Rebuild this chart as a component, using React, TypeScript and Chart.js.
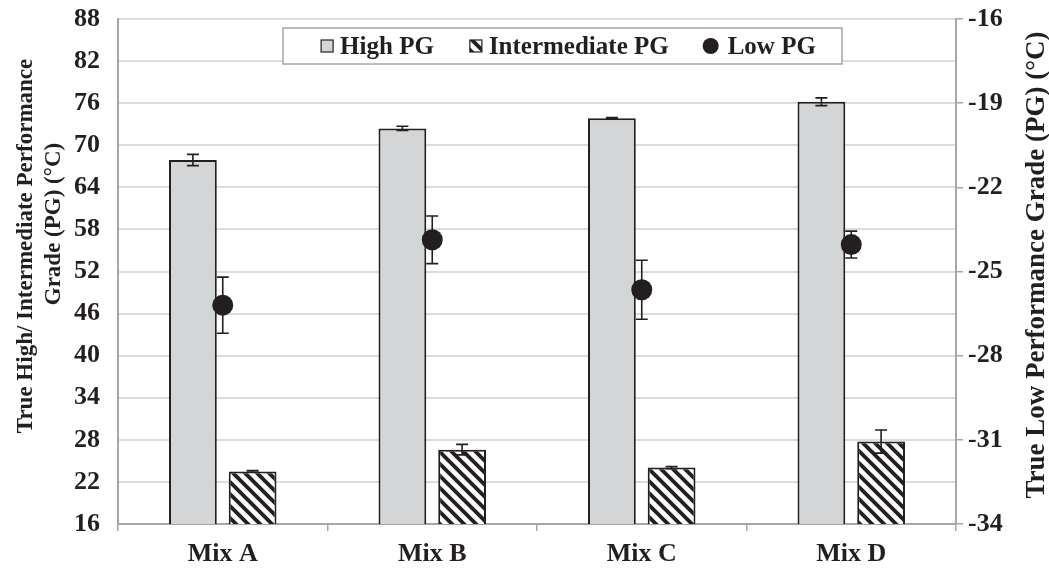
import React, { useEffect, useRef } from "react";
import { Chart, registerables } from "chart.js";

Chart.register(...registerables);

// ---------- data ----------
const categories = ["Mix A", "Mix B", "Mix C", "Mix D"];
const seriesNames = ["High PG", "Intermediate PG", "Low PG"];
const highPG = [67.9, 72.4, 73.85, 76.2];
const highPGErr = [0.8, 0.3, 0.1, 0.55];
const intermediatePG = [23.5, 26.6, 24.05, 27.75];
const intermediatePGErr = [0.12, 0.75, 0.15, 1.65];
const lowPG = [-26.2, -23.87, -25.65, -24.04];
const lowPGErr = [1.0, 0.85, 1.05, 0.48];
const leftTicks = { min: 16, max: 88, step: 6 };
const rightTicks = { min: -34, max: -16, step: 3 };
const leftTitle = ["True High/ Intermediate Performance", "Grade (PG) (°C)"];
const rightTitle = "True Low Performance Grade (PG) (°C)";

// ---------- styles ----------
const FONT = "'Liberation Serif', 'Times New Roman', serif";
const INK = "#231f20";
const BAR_GRAY = "#d4d5d7";
const AXIS = "#a6a6a6";
const GRID = "#dcdcdc";

function makeHatch(): CanvasPattern | string {
  const s = 12;
  const c = document.createElement("canvas");
  c.width = s;
  c.height = s;
  const g = c.getContext("2d");
  if (!g) return "#fff";
  g.fillStyle = "#ffffff";
  g.fillRect(0, 0, s, s);
  g.strokeStyle = INK;
  g.lineWidth = 3.8;
  g.lineCap = "square";
  for (const k of [-s, 0, s]) {
    g.beginPath();
    g.moveTo(-2, k - 2);
    g.lineTo(s + 2, k + s + 2);
    g.stroke();
  }
  const p = g.createPattern(c, "repeat");
  return p || "#fff";
}

const errorBarPlugin = {
  id: "errorBars",
  afterDatasetsDraw(chart: any) {
    const ctx = chart.ctx;
    ctx.save();
    chart.data.datasets.forEach((ds: any, di: number) => {
      const errs: number[] | undefined = ds.errorBars;
      if (!errs) return;
      const meta = chart.getDatasetMeta(di);
      const scale = chart.scales[meta.yAxisID];
      meta.data.forEach((el: any, i: number) => {
        const v = ds.data[i];
        const e = errs[i];
        const x = el.x;
        const yT = scale.getPixelForValue(v + e);
        const yB = scale.getPixelForValue(v - e);
        const cap = 6;
        ctx.strokeStyle = INK;
        ctx.lineWidth = 1.6;
        ctx.beginPath();
        ctx.moveTo(x, yT);
        ctx.lineTo(x, yB);
        ctx.moveTo(x - cap, yT);
        ctx.lineTo(x + cap, yT);
        ctx.moveTo(x - cap, yB);
        ctx.lineTo(x + cap, yB);
        ctx.stroke();
      });
    });
    ctx.restore();
  },
};

function makeOverlayPlugin(hatch: CanvasPattern | string) {
  return {
    id: "overlay",
    afterDraw(chart: any) {
      const ctx = chart.ctx;
      ctx.save();
      ctx.fillStyle = INK;
      // axis titles
      ctx.font = `bold 23px ${FONT}`;
      ctx.textAlign = "center";
      ctx.textBaseline = "middle";
      ctx.save();
      ctx.translate(26, 246);
      ctx.rotate(-Math.PI / 2);
      ctx.fillText(leftTitle[0], 0, 0);
      ctx.restore();
      ctx.save();
      ctx.translate(54, 224);
      ctx.rotate(-Math.PI / 2);
      ctx.fillText(leftTitle[1], 0, 0);
      ctx.restore();
      ctx.font = `bold 27px ${FONT}`;
      ctx.save();
      ctx.translate(1037, 265);
      ctx.rotate(-Math.PI / 2);
      ctx.fillText(rightTitle, 0, 0);
      ctx.restore();

      // legend
      const bx = 283, by = 28, bw = 559, bh = 36;
      ctx.fillStyle = "#ffffff";
      ctx.fillRect(bx, by, bw, bh);
      ctx.strokeStyle = AXIS;
      ctx.lineWidth = 1.5;
      ctx.strokeRect(bx, by, bw, bh);

      ctx.font = `bold 25px ${FONT}`;
      ctx.textAlign = "left";
      ctx.textBaseline = "alphabetic";
      const icon = 12, gapIcon = 7, gapItem = 36;
      const widths = seriesNames.map((n) => ctx.measureText(n).width);
      const total = widths.reduce((a, w) => a + icon + gapIcon + w, 0) + gapItem * (seriesNames.length - 1);
      let x = bx + bw / 2 - total / 2 + 4;
      const cy = 46;
      seriesNames.forEach((name, i) => {
        if (i === 0 || i === 1) {
          ctx.fillStyle = i === 0 ? BAR_GRAY : (hatch as any);
          ctx.fillRect(x, cy - icon / 2, icon, icon);
          ctx.strokeStyle = INK;
          ctx.lineWidth = 1.2;
          ctx.strokeRect(x, cy - icon / 2, icon, icon);
        } else {
          ctx.fillStyle = INK;
          ctx.beginPath();
          ctx.arc(x + icon / 2, cy, 8, 0, Math.PI * 2);
          ctx.fill();
          x += 4;
        }
        x += icon + gapIcon;
        ctx.fillStyle = INK;
        ctx.fillText(name, x, 54);
        x += widths[i] + gapItem;
      });
      ctx.restore();
    },
  };
}

export default function App() {
  const ref = useRef<HTMLCanvasElement | null>(null);

  useEffect(() => {
    if (!ref.current) return;
    const hatch = makeHatch();
    const tickFont = { family: FONT, size: 26, weight: "bold" as const };
    const chart = new Chart(ref.current, {
      type: "bar",
      data: {
        labels: categories,
        datasets: [
          {
            type: "bar",
            label: seriesNames[0],
            data: highPG,
            backgroundColor: BAR_GRAY,
            borderColor: INK,
            borderWidth: 2,
            yAxisID: "y",
            order: 2,
            categoryPercentage: 0.57,
            barPercentage: 0.8,
            errorBars: highPGErr,
          } as any,
          {
            type: "bar",
            label: seriesNames[1],
            data: intermediatePG,
            backgroundColor: hatch as any,
            borderColor: INK,
            borderWidth: 2,
            yAxisID: "y",
            order: 2,
            categoryPercentage: 0.57,
            barPercentage: 0.8,
            errorBars: intermediatePGErr,
          } as any,
          {
            type: "line",
            label: seriesNames[2],
            data: lowPG,
            showLine: false,
            pointRadius: 10.5,
            pointHoverRadius: 10.5,
            pointBackgroundColor: INK,
            pointBorderColor: INK,
            pointBorderWidth: 0,
            yAxisID: "y1",
            order: 1,
            errorBars: lowPGErr,
          } as any,
        ],
      },
      options: {
        animation: false,
        responsive: true,
        maintainAspectRatio: false,
        layout: { padding: { top: 19, left: 0, right: 0, bottom: 0 } },
        plugins: {
          legend: { display: false },
          tooltip: { enabled: false },
        },
        scales: {
          x: {
            offset: true,
            grid: {
              display: true,
              drawOnChartArea: false,
              drawTicks: true,
              tickLength: 7,
              color: AXIS,
              lineWidth: 1.5,
              offset: true,
            },
            border: { color: AXIS, width: 2 },
            ticks: { color: INK, font: tickFont, padding: 8 },
            afterFit: (s: any) => {
              s.height = 44;
              s.paddingLeft = 0;
              s.paddingRight = 0;
            },
          },
          y: {
            position: "left",
            min: leftTicks.min,
            max: leftTicks.max,
            ticks: { stepSize: leftTicks.step, color: INK, font: tickFont, padding: 18 },
            grid: { color: GRID, lineWidth: 2, drawTicks: false },
            border: { color: AXIS, width: 2 },
            afterFit: (s: any) => {
              s.width = 118;
              s.paddingTop = 0;
              s.paddingBottom = 0;
            },
          },
          y1: {
            position: "right",
            min: rightTicks.min,
            max: rightTicks.max,
            ticks: { stepSize: rightTicks.step, color: INK, font: tickFont, padding: 5 },
            grid: { drawOnChartArea: false, drawTicks: true, tickLength: 7, color: AXIS, lineWidth: 1.5 },
            border: { color: AXIS, width: 2 },
            afterFit: (s: any) => {
              s.width = 93;
              s.paddingTop = 0;
              s.paddingBottom = 0;
            },
          },
        },
      },
      plugins: [errorBarPlugin, makeOverlayPlugin(hatch)],
    });
    return () => chart.destroy();
  }, []);

  return (
    <div style={{ position: "absolute", left: 0, top: 0, width: 1049, height: 568, background: "#fff" }}>
      <canvas ref={ref} />
    </div>
  );
}
